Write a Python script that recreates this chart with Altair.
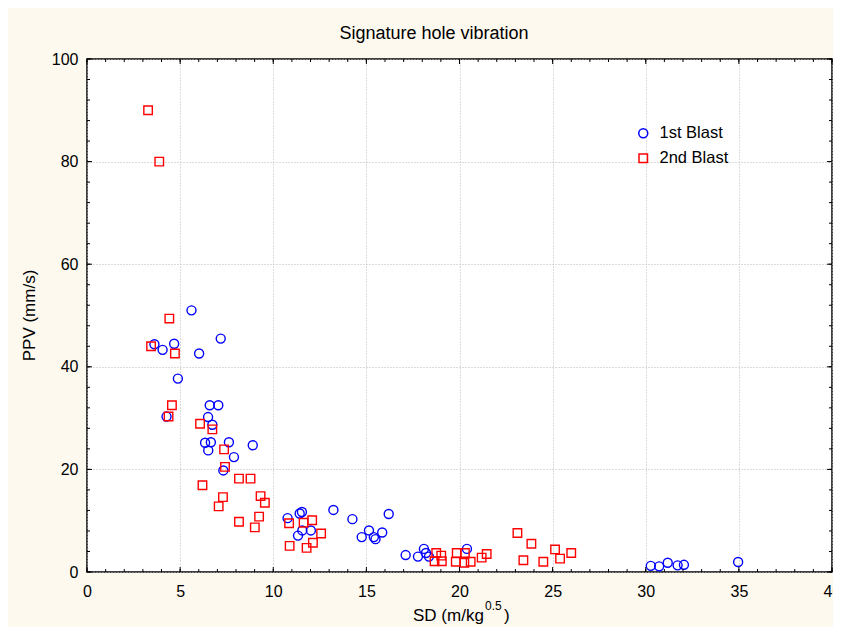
import altair as alt
import pandas as pd

# ---------------- data ----------------
series_names = ["1st Blast", "2nd Blast"]

blast1_sd = [3.62, 4.06, 4.68, 4.88, 5.61, 6.02, 7.18, 6.59, 7.05, 6.50, 4.27, 6.73,
             6.34, 6.65, 7.62, 8.90, 6.51, 7.89, 7.32, 10.77, 11.42, 11.54, 11.56,
             12.02, 11.33, 13.23, 14.25, 16.20, 14.75, 15.14, 15.40, 15.49, 15.85,
             17.11, 17.77, 18.09, 18.20, 18.36, 20.40, 30.27, 30.72, 31.18, 31.71,
             32.05, 34.96]
blast1_ppv = [44.4, 43.3, 44.5, 37.7, 51.0, 42.6, 45.5, 32.5, 32.5, 30.2, 30.3, 28.7,
              25.2, 25.3, 25.3, 24.7, 23.7, 22.4, 19.8, 10.5, 11.4, 11.7, 8.1,
              8.1, 7.1, 12.1, 10.3, 11.3, 6.8, 8.1, 6.8, 6.4, 7.7,
              3.3, 3.0, 4.5, 3.7, 3.0, 4.5, 1.2, 1.1, 1.8, 1.3,
              1.4, 1.95]

blast2_sd = [3.28, 3.88, 4.42, 3.44, 4.72, 4.56, 4.38, 6.07, 6.73, 7.36, 7.41, 6.20,
             8.16, 8.78, 9.32, 9.55, 7.30, 7.07, 8.16, 9.24, 9.01, 10.85, 11.63,
             12.09, 12.57, 12.13, 10.88, 11.79, 18.75, 19.02, 18.66, 19.05, 19.85,
             20.29, 19.80, 20.26, 20.60, 21.19, 21.46, 23.11, 23.86, 23.43, 24.50,
             25.13, 25.40, 26.00]
blast2_ppv = [90.0, 80.0, 49.4, 44.0, 42.6, 32.5, 30.3, 28.9, 27.8, 23.9, 20.5, 16.9,
              18.2, 18.2, 14.8, 13.5, 14.6, 12.8, 9.8, 10.8, 8.7, 9.5, 9.6,
              10.1, 7.5, 5.7, 5.1, 4.7, 3.7, 3.2, 2.1, 2.1, 3.7,
              3.7, 2.0, 1.8, 2.0, 2.8, 3.5, 7.6, 5.5, 2.3, 2.0,
              4.4, 2.6, 3.7]

x_tick_labels = [0, 5, 10, 15, 20, 25, 30, 35, 40]
y_tick_labels = [0, 20, 40, 60, 80, 100]
x_minor_ticks = list(range(0, 41))
y_minor_ticks = list(range(0, 101, 4))

title_text = "Signature hole vibration"
y_title_text = "PPV (mm/s)"
x_title_main = "SD (m/kg"
x_title_sup = "0.5"
x_title_end = ")"

# ---------------- layout / style ----------------
W, H = 745, 513
FONT = "Liberation Sans"
BG = "#FDF9EF"

df = pd.DataFrame({
    "SD": blast1_sd + blast2_sd,
    "PPV": blast1_ppv + blast2_ppv,
    "Blast": [series_names[0]] * len(blast1_sd) + [series_names[1]] * len(blast2_sd),
})

xs = alt.Scale(domain=[0, 40], nice=False, zero=False)
ys = alt.Scale(domain=[0, 100], nice=False, zero=False)

x_axis = alt.Axis(
    values=x_tick_labels, title=None, ticks=False, domain=False,
    grid=True, gridDash=[1, 2], gridColor="#b8b8b8", gridWidth=1,
    labelFont=FONT, labelFontSize=16, labelColor="black", labelPadding=11,
    labelFlush=False, labelOverlap=False, labelBound=False)
y_axis = alt.Axis(
    values=y_tick_labels, title=None, ticks=False, domain=False,
    grid=True, gridDash=[1, 2], gridColor="#b8b8b8", gridWidth=1,
    labelFont=FONT, labelFontSize=16, labelColor="black", labelPadding=9,
    labelFlush=False, labelOverlap=False, labelBound=False)

legend = alt.Legend(
    title=None, orient="none", legendX=548, legendY=66, padding=0,
    labelFont=FONT, labelFontSize=16.5, labelColor="black", labelOffset=8,
    symbolSize=64, symbolStrokeWidth=1.5, rowPadding=8,
)

points = alt.Chart(df).mark_point(filled=False, opacity=1, strokeWidth=1.4).encode(
    x=alt.X("SD:Q", scale=xs, axis=x_axis),
    y=alt.Y("PPV:Q", scale=ys, axis=y_axis),
    color=alt.Color("Blast:N", scale=alt.Scale(domain=series_names, range=["#0000FF", "#FF0000"]),
                    legend=legend),
    shape=alt.Shape("Blast:N", scale=alt.Scale(domain=series_names, range=["circle", "square"]),
                    legend=legend),
    size=alt.Size("Blast:N", scale=alt.Scale(domain=series_names, range=[81, 72]), legend=None),
)


def x_ticks(vals, L, top):
    d = pd.DataFrame({"SD": vals})
    return alt.Chart(d).mark_rule(color="black", strokeWidth=1).encode(
        x=alt.X("SD:Q", scale=xs, axis=x_axis),
        y=alt.value(0 if top else H),
        y2=alt.value(L if top else H - L),
    )


def y_ticks(vals, L, right):
    d = pd.DataFrame({"PPV": vals})
    return alt.Chart(d).mark_rule(color="black", strokeWidth=1).encode(
        y=alt.Y("PPV:Q", scale=ys, axis=y_axis),
        x=alt.value(W if right else 0),
        x2=alt.value(W - L if right else L),
    )


def text(s, x, y, size, align="left", baseline="alphabetic", angle=0):
    d = pd.DataFrame({"t": [s]})
    return alt.Chart(d).mark_text(
        font=FONT, fontSize=size, color="black", align=align, baseline=baseline, angle=angle
    ).encode(text="t:N", x=alt.value(x), y=alt.value(y))


tick_layers = [
    x_ticks(x_minor_ticks, 3, False), x_ticks(x_tick_labels, 5, False),
    x_ticks(x_minor_ticks, 3, True), x_ticks(x_tick_labels, 5, True),
    y_ticks(y_minor_ticks, 3, False), y_ticks(y_tick_labels, 5, False),
    y_ticks(y_minor_ticks, 3, True), y_ticks(y_tick_labels, 5, True),
]

text_layers = [
    text(title_text, 347, -25, 18, align="center", baseline="middle"),
    text(y_title_text, -57, 256.5, 17, align="center", baseline="middle", angle=270),
    text(x_title_main, 326, 562, 17),
    text(x_title_sup, 398, 551, 12),
    text(x_title_end, 417, 562, 17),
]

chart = alt.layer(points, *tick_layers, *text_layers).properties(
    width=W, height=H,
    padding={"left": 79, "top": 51, "right": 1, "bottom": 55},
    autosize=alt.AutoSizeParams(type="none"),
).configure(background=BG).configure_view(fill="white", stroke="black", strokeWidth=1.5)

chart.save("out.html", embed_options={"renderer": "svg", "actions": False})
